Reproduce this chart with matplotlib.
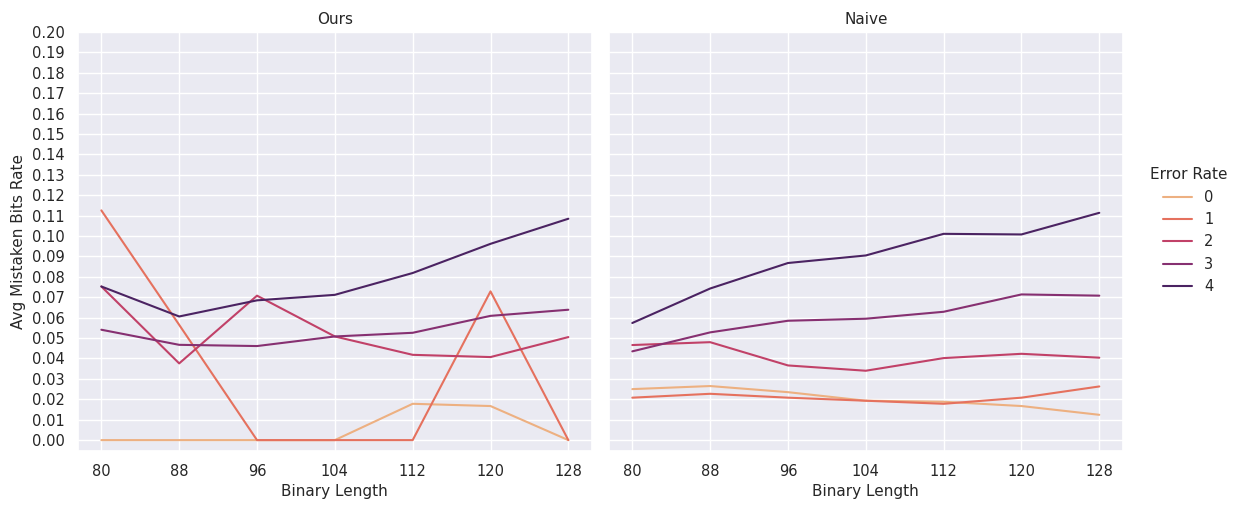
import matplotlib
matplotlib.use("Agg")
import matplotlib.pyplot as plt
import numpy as np
import seaborn as sns

sns.set_theme(style="darkgrid")

# Binary lengths on the x axis
lengths = [80, 88, 96, 104, 112, 120, 128]
error_rates = [0, 1, 2, 3, 4]

# Avg mistaken bits rate per error rate, "Ours"
ours = {
    0: [0.0, 0.0, 0.0, 0.0, 0.0178, 0.0167, 0.0],
    1: [0.1126, 0.0565, 0.0, 0.0, 0.0, 0.0729, 0.0],
    2: [0.0753, 0.0376, 0.0708, 0.0508, 0.0418, 0.0407, 0.0505],
    3: [0.0541, 0.0467, 0.0461, 0.0508, 0.0526, 0.0609, 0.0639],
    4: [0.0753, 0.0606, 0.0685, 0.0712, 0.0819, 0.0962, 0.1085],
}

# Avg mistaken bits rate per error rate, "Naive"
naive = {
    0: [0.0250, 0.0265, 0.0235, 0.0193, 0.0188, 0.0167, 0.0124],
    1: [0.0208, 0.0227, 0.0208, 0.0193, 0.0178, 0.0208, 0.0263],
    2: [0.0466, 0.0480, 0.0366, 0.0340, 0.0402, 0.0423, 0.0404],
    3: [0.0435, 0.0528, 0.0585, 0.0595, 0.0629, 0.0714, 0.0708],
    4: [0.0574, 0.0743, 0.0868, 0.0905, 0.1011, 0.1008, 0.1114],
}

cmap = sns.color_palette("flare", as_cmap=True)
colors = [cmap(v) for v in np.linspace(0, 1, len(error_rates))]

fig = plt.figure(figsize=(12.42, 5.07), dpi=100)
ax1 = fig.add_axes([0.0628, 0.111, 0.4136, 0.8258])
ax2 = fig.add_axes([0.4903, 0.111, 0.4136, 0.8258], sharey=ax1)

for ax, data, title in [(ax1, ours, "Ours"), (ax2, naive, "Naive")]:
    for er, c in zip(error_rates, colors):
        ax.plot(lengths, data[er], color=c, lw=1.5, label=str(er))
    ax.set_title(title, fontsize=11)
    ax.set_xticks(lengths)
    ax.set_xlabel("Binary Length", fontsize=11)
    ax.tick_params(labelsize=10.5)

ax1.set_yticks(np.arange(0, 0.201, 0.01))
ax1.set_yticklabels([f"{v:.2f}" for v in np.arange(0, 0.201, 0.01)])
ax1.set_ylim(-0.0052, 0.2)
ax1.set_ylabel("Avg Mistaken Bits Rate", fontsize=11)
plt.setp(ax2.get_yticklabels(), visible=False)

handles, labels = ax1.get_legend_handles_labels()
leg = fig.legend(handles, labels, title="Error Rate", loc="center left",
                 bbox_to_anchor=(0.915, 0.545), frameon=False,
                 fontsize=10.5, title_fontsize=11)

fig.savefig("out.png", dpi=100)
